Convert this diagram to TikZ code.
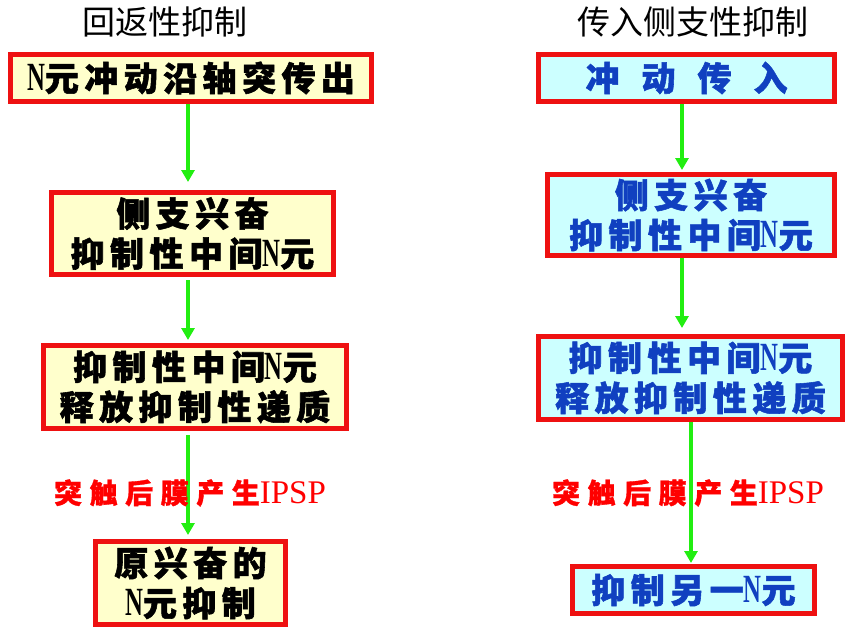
\documentclass[tikz,border=0pt]{standalone}
\usepackage{fontspec}
\usetikzlibrary{arrows.meta}
\newfontfamily\cjktitle{Noto Sans CJK SC}
\newfontfamily\cjkb{Noto Sans CJK SC}[LetterSpace=16,BoldFeatures={FakeBold=1.6}]
\newfontfamily\cjklab{Noto Sans CJK SC}[LetterSpace=27,BoldFeatures={FakeBold=1.2}]
\newfontfamily\nserif{Liberation Serif}[FakeStretch=0.62]
\newfontfamily\ipspfont{Liberation Serif}
\newcommand\Nn{{\nserif\fontsize{40}{40}\selectfont N}}
\definecolor{boxyellow}{HTML}{FFFFCC}
\definecolor{boxcyan}{HTML}{CCFFFF}
\definecolor{txtblue}{HTML}{1040C0}
\definecolor{arrgreen}{HTML}{22EE11}
\definecolor{boxred}{HTML}{EE1111}
\tikzset{
  flowbox/.style={draw=boxred, line width=5pt, inner sep=0pt, align=center,
    font=\cjkb\bfseries\fontsize{34}{40}\selectfont},
  leftbox/.style={flowbox, fill=boxyellow, text=black},
  rightbox/.style={flowbox, fill=boxcyan, text=txtblue},
  titletext/.style={inner sep=0pt, font=\cjktitle\fontsize{33}{40}\selectfont},
  labeltext/.style={inner sep=0pt, text=red, font=\cjklab\bfseries\fontsize{28}{34}\selectfont},
  flowarrow/.style={draw=arrgreen, line width=3.5pt, -{Triangle[width=13pt,length=12pt]}}
}
\begin{document}
\begin{tikzpicture}[x=1pt,y=-1pt]
\useasboundingbox (0,0) rectangle (852,632);
% titles
\node[titletext] (tl) at (165,22) {回返性抑制};
\node[titletext] (tr) at (693,22) {传入侧支性抑制};
% left column
\node[leftbox, minimum width=361pt, minimum height=47pt] (L1) at (191,78) {\Nn 元冲动沿轴突传出};
\node[leftbox, minimum width=282pt, minimum height=82pt] (L2) at (192.5,233.5) {侧支兴奋\\抑制性中间\Nn 元};
\node[leftbox, minimum width=303pt, minimum height=83pt] (L3) at (195,387) {抑制性中间\Nn 元\\释放抑制性递质};
\node[leftbox, minimum width=190pt, minimum height=83pt] (L4) at (190.5,583) {原兴奋的\\\Nn 元抑制};
% right column
\node[rightbox, minimum width=296pt, minimum height=47pt] (R1) at (686.5,78) {冲\hspace{22pt}动\hspace{22pt}传\hspace{22pt}入};
\node[rightbox, minimum width=287pt, minimum height=81pt] (R2) at (691,215) {侧支兴奋\\抑制性中间\Nn 元};
\node[rightbox, minimum width=304pt, minimum height=83pt] (R3) at (690.5,378) {抑制性中间\Nn 元\\释放抑制性递质};
\node[rightbox, minimum width=242pt, minimum height=47pt] (R4) at (693.5,590) {抑制另一\Nn 元};
% arrow axes
\coordinate (axL) at (188,0);
\coordinate (axR) at (682,0);
\coordinate (axR3) at (691,0);
% arrows
\draw[flowarrow, shorten >=8pt] (axL |- L1.south) -- (axL |- L2.north);
\draw[flowarrow, shorten <=3pt, shorten >=3pt] (axL |- L2.south) -- (axL |- L3.north);
\draw[flowarrow, shorten <=4pt, shorten >=4pt] (axL |- L3.south) -- (axL |- L4.north);
\draw[flowarrow, shorten >=2pt] (axR |- R1.south) -- (axR |- R2.north);
\draw[flowarrow, shorten >=6pt] (axR |- R2.south) -- (axR |- R3.north);
\draw[flowarrow, shorten >=1pt] (axR3 |- R3.south) -- (axR3 |- R4.north);
% labels
\node[labeltext] (labL) at (190,493) {突触后膜产生{\ipspfont\mdseries\fontsize{33}{34}\selectfont IPSP}};
\node[labeltext] (labR) at (688,493) {突触后膜产生{\ipspfont\mdseries\fontsize{33}{34}\selectfont IPSP}};
\end{tikzpicture}
\end{document}
